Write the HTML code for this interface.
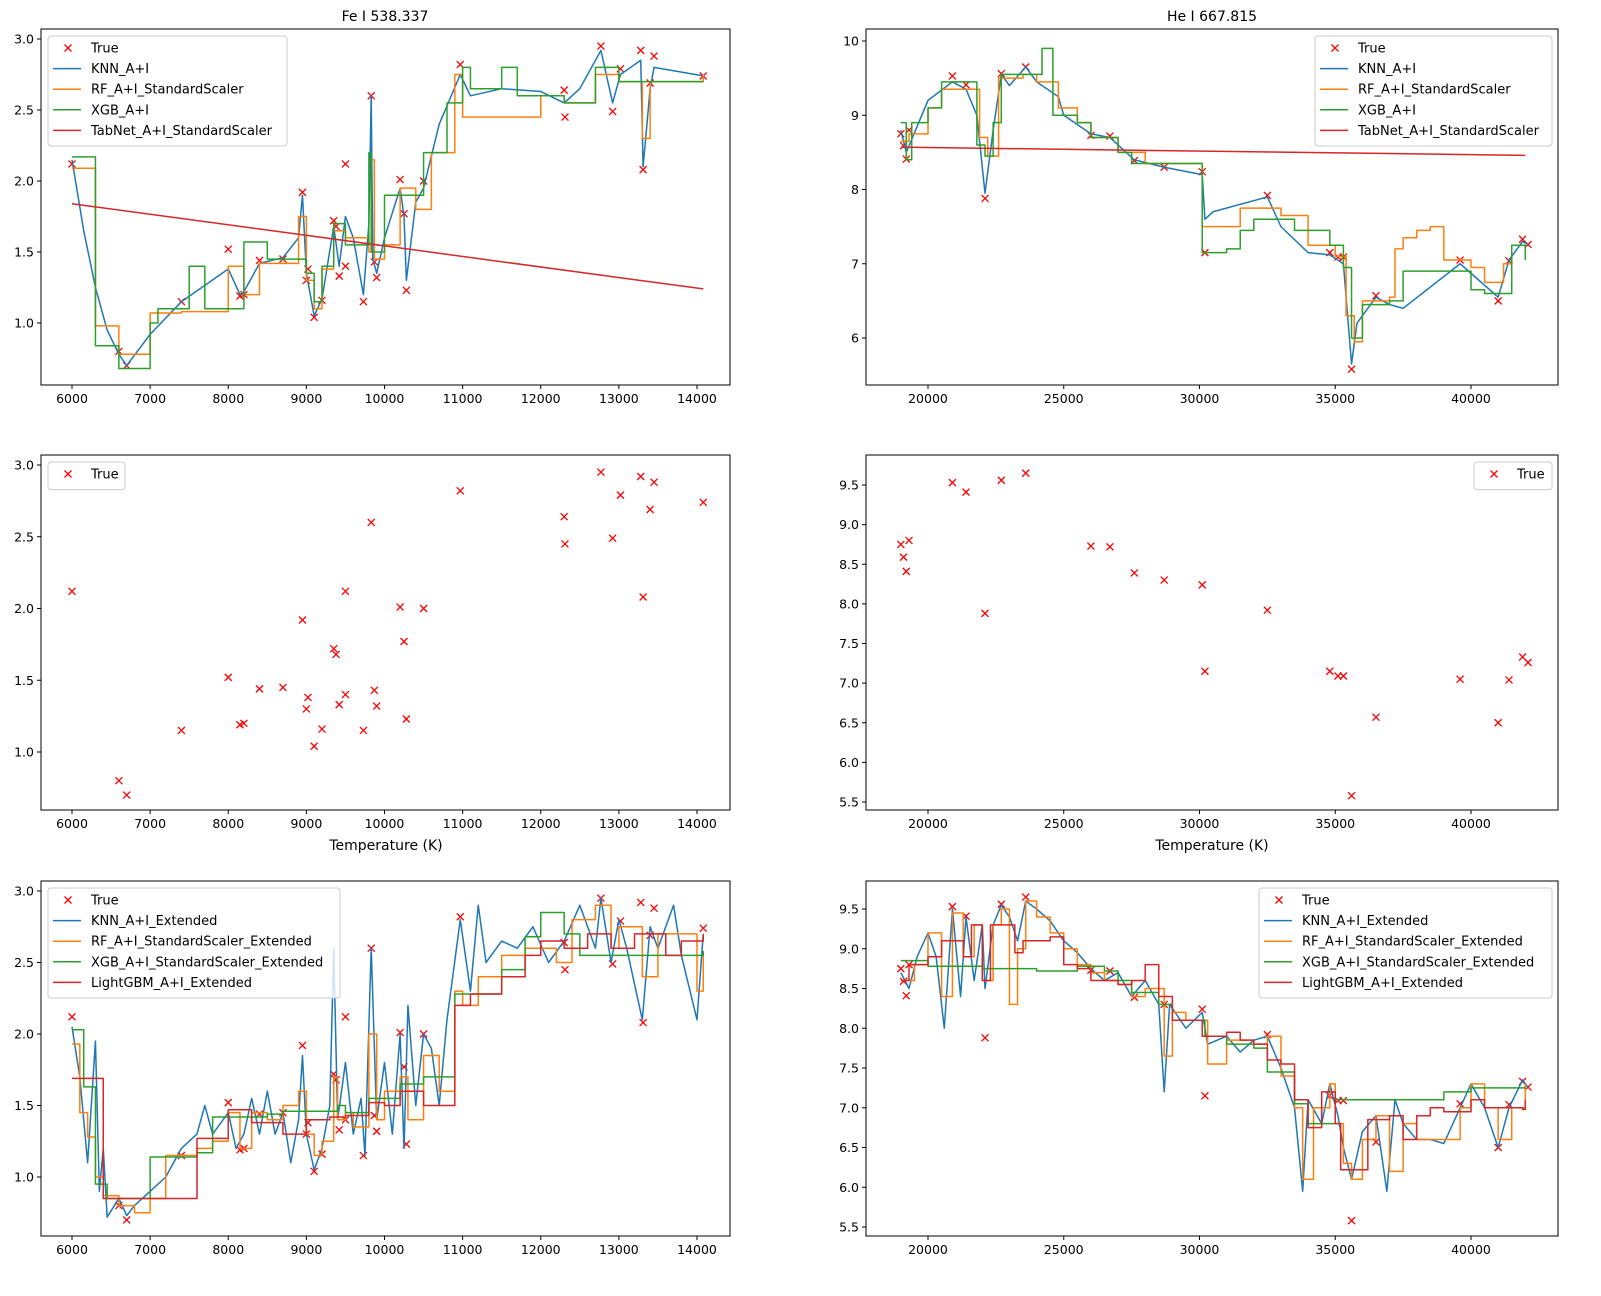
<!DOCTYPE html>
<html><head><meta charset="utf-8"><style>
body{margin:0;background:#fff;}
svg{display:block;font-family:"DejaVu Sans","Liberation Sans",sans-serif;}
</style></head><body>
<svg id="chart" width="1601" height="1296" viewBox="0 0 1601 1296" xmlns="http://www.w3.org/2000/svg"></svg>
<script>
// ---------- True data ----------
const feTrueT=[6000,6600,6700,7400,8000,8150,8200,8400,8700,8950,9000,9020,9100,9200,9350,9380,9420,9500,9500,9730,9830,9870,9900,10200,10250,10280,10500,10970,12300,12310,12770,12920,13020,13280,13310,13400,13450,14080];
const feTrueV=[2.12,0.80,0.70,1.15,1.52,1.19,1.20,1.44,1.45,1.92,1.30,1.38,1.04,1.16,1.72,1.68,1.33,1.40,2.12,1.15,2.60,1.43,1.32,2.01,1.77,1.23,2.00,2.82,2.64,2.45,2.95,2.49,2.79,2.92,2.08,2.69,2.88,2.74];
const heTrueT=[19000,19100,19200,19300,20900,21400,22100,22700,23600,26000,26700,27600,28700,30100,30200,32500,34800,35100,35300,35600,36500,39600,41000,41400,41900,42100];
const heTrueV=[8.75,8.59,8.41,8.80,9.53,9.41,7.88,9.56,9.65,8.73,8.72,8.39,8.30,8.24,7.15,7.92,7.15,7.09,7.09,5.58,6.57,7.05,6.50,7.04,7.33,7.26];

// ---------- Row 1 Fe ----------
const fe1KnnT=[6000,6150,6300,6450,6600,6700,7000,7400,8000,8150,8200,8400,8700,8900,8950,9000,9100,9200,9350,9420,9500,9600,9730,9800,9830,9850,9900,10000,10200,10250,10280,10400,10500,10700,10970,11100,11500,12000,12300,12500,12770,12920,13020,13280,13310,13400,13450,14080];
const fe1KnnV=[2.15,1.65,1.25,0.95,0.78,0.70,0.92,1.15,1.38,1.20,1.22,1.42,1.46,1.60,1.90,1.35,1.05,1.17,1.68,1.40,1.75,1.60,1.20,1.70,2.60,1.45,1.35,1.60,1.95,1.75,1.30,1.85,1.95,2.40,2.75,2.60,2.65,2.63,2.55,2.65,2.92,2.55,2.75,2.85,2.10,2.65,2.80,2.74];
const fe1RfT=[6000,6300,6600,7000,7400,8000,8200,8400,8900,9000,9100,9200,9350,9500,9800,9830,9870,10000,10200,10400,10600,10900,11000,12000,12300,12700,13000,13300,13400,14080];
const fe1RfV=[2.09,0.98,0.78,1.07,1.08,1.40,1.20,1.42,1.75,1.30,1.10,1.38,1.65,1.60,1.50,2.15,1.45,1.55,1.95,1.80,2.20,2.75,2.45,2.60,2.55,2.75,2.70,2.30,2.70,2.75];
const fe1XgbT=[6000,6300,6600,7000,7100,7500,7700,8200,8500,9000,9100,9200,9350,9500,9800,9830,10000,10500,10800,11000,11100,11500,11700,12300,12700,13000,13300,14080];
const fe1XgbV=[2.17,0.84,0.68,1.00,1.10,1.40,1.10,1.57,1.45,1.35,1.15,1.40,1.70,1.55,2.20,1.50,1.90,2.20,2.55,2.80,2.65,2.80,2.60,2.55,2.80,2.70,2.70,2.70];
const fe1TabT=[6000,14080];
const fe1TabV=[1.84,1.24];

// ---------- Row 1 He ----------
const he1KnnT=[19000,19200,20000,20900,21400,21800,22100,22400,22700,23000,23600,24000,24800,25000,26000,26700,27600,28700,30100,30200,30500,32500,33000,34000,34800,35300,35600,35800,36500,37000,37500,39600,41000,41400,41900,42100];
const he1KnnV=[8.8,8.5,9.2,9.45,9.35,9.0,7.95,8.8,9.55,9.4,9.65,9.45,9.25,9.0,8.75,8.7,8.4,8.3,8.2,7.6,7.7,7.9,7.5,7.15,7.12,7.0,5.65,6.2,6.55,6.45,6.4,7.0,6.55,7.05,7.3,7.26];
const he1RfT=[19000,19300,20000,20500,21500,21900,22200,22600,23500,24000,24800,25500,26000,27000,28000,30100,31000,31500,33000,34000,35000,35400,35700,36000,37000,37200,37500,38000,38500,39000,40000,40500,41200,41500,42000];
const he1RfV=[8.65,8.75,9.1,9.35,9.35,8.7,8.45,9.5,9.55,9.45,9.1,8.9,8.7,8.5,8.35,7.5,7.5,7.75,7.65,7.25,7.1,6.3,5.95,6.5,6.55,7.2,7.35,7.45,7.5,7.05,6.95,6.75,7.0,7.25,7.2];
const he1XgbT=[19000,19200,19400,20000,20500,21500,21800,22100,22400,22700,23500,24200,24600,25500,26000,27000,27500,28500,30100,31000,31500,32000,33500,34800,35300,35600,36000,37000,37500,39500,40000,40500,41000,41500,41900,42000];
const he1XgbV=[8.9,8.4,8.9,9.1,9.45,9.45,8.6,8.45,8.9,9.55,9.55,9.9,9.0,8.9,8.7,8.5,8.35,8.35,7.15,7.2,7.45,7.6,7.45,7.25,6.95,6.0,6.45,6.5,6.9,6.9,6.65,6.6,6.6,7.25,7.25,7.05];
const he1TabT=[19000,42000];
const he1TabV=[8.57,8.46];

// ---------- Row 3 Fe ----------
const fe3KnnT=[6000,6100,6200,6300,6350,6400,6450,6600,6700,6800,7000,7200,7400,7600,7700,7800,8000,8100,8200,8300,8400,8500,8600,8700,8800,8900,8950,9000,9100,9200,9300,9350,9400,9500,9600,9700,9750,9830,9900,10000,10100,10200,10250,10300,10400,10500,10600,10700,10800,10970,11100,11200,11300,11500,11700,11900,12100,12300,12500,12700,12770,12900,13000,13100,13300,13400,13500,13700,13800,14000,14080];
const fe3KnnV=[2.05,1.7,1.1,1.95,0.9,1.2,0.72,0.85,0.73,0.8,0.9,1.0,1.2,1.3,1.5,1.3,1.45,1.2,1.3,1.55,1.3,1.6,1.3,1.45,1.1,1.4,1.85,1.3,1.05,1.2,1.5,2.6,1.4,1.8,1.3,1.55,1.15,2.6,1.4,1.8,1.3,2.0,1.2,2.2,1.5,2.0,1.9,1.5,2.1,2.8,2.3,2.9,2.5,2.65,2.6,2.75,2.5,2.65,2.9,2.6,2.95,2.5,2.8,2.6,2.1,2.75,2.6,2.9,2.55,2.1,2.7];
const fe3RfT=[6000,6100,6200,6300,6400,6600,6800,7000,7200,7600,7800,8000,8150,8300,8500,8700,8900,9000,9100,9200,9350,9400,9500,9600,9800,9900,10000,10200,10300,10500,10700,10900,11000,11200,11500,11800,12200,12400,12700,12900,13000,13300,13500,13800,14000,14080];
const fe3RfV=[1.93,1.45,1.28,1.0,0.87,0.8,0.75,0.85,1.15,1.2,1.25,1.45,1.2,1.45,1.4,1.5,1.6,1.3,1.15,1.25,1.7,1.4,1.45,1.35,2.0,1.4,1.6,1.7,1.4,1.85,1.6,2.3,2.2,2.4,2.55,2.6,2.5,2.8,2.9,2.6,2.75,2.4,2.7,2.7,2.3,2.55];
const fe3XgbT=[6000,6150,6300,6450,7000,7600,7800,8500,8700,9400,9500,9800,10200,10500,10900,11500,11800,12000,12300,12500,14080];
const fe3XgbV=[2.03,1.63,0.95,0.85,1.14,1.17,1.42,1.44,1.46,1.5,1.45,1.55,1.65,1.7,2.28,2.45,2.68,2.85,2.7,2.55,2.58];
const fe3LgbT=[6000,6400,7600,8000,8300,8700,9000,9300,9500,9800,10000,10200,10500,10900,11100,11500,11800,12000,12300,12600,12900,13200,13600,13800,14080];
const fe3LgbV=[1.69,0.85,1.27,1.47,1.38,1.3,1.4,1.42,1.43,1.52,1.5,1.6,1.5,2.2,2.28,2.4,2.55,2.65,2.6,2.7,2.6,2.7,2.55,2.65,2.7];

// ---------- Row 3 He ----------
const he3KnnT=[19000,19300,19600,20000,20300,20600,20900,21200,21400,21700,22000,22100,22400,22700,23000,23300,23600,24000,24500,25000,25500,26000,26500,27000,27500,28000,28500,28700,28900,29500,30100,30300,31000,31500,32000,32500,33000,33500,33800,34000,34500,34800,35100,35300,35600,36000,36500,36900,37200,37500,38000,38500,39000,39600,40000,40500,41000,41400,41900,42100];
const he3KnnV=[8.7,8.5,8.9,9.2,8.9,8.0,9.5,8.4,9.4,8.6,9.3,8.5,9.3,9.55,9.4,9.1,9.6,9.5,9.35,9.1,8.95,8.75,8.6,8.7,8.4,8.6,8.3,7.2,8.3,8.0,8.2,7.8,7.9,7.7,7.85,7.9,7.5,7.0,5.95,7.1,6.8,7.3,6.9,6.5,6.1,6.7,6.9,5.95,7.1,6.8,6.6,6.6,6.55,7.0,7.3,7.0,6.5,7.0,7.35,7.25];
const he3RfT=[19000,19500,20000,20500,20900,21300,21700,22000,22400,22700,23000,23300,23600,24000,24500,25000,25500,26000,26500,27000,27500,28000,28700,29000,29500,30100,30300,31000,32000,32500,33000,33500,33800,34200,34800,35000,35300,35600,36000,36500,37000,37500,38000,39000,39600,40000,40500,41000,41500,42000];
const he3RfV=[8.6,8.8,9.2,8.4,9.45,8.9,9.3,8.6,9.3,9.5,8.3,9.0,9.6,9.4,9.2,9.0,8.8,8.7,8.6,8.55,8.4,8.5,7.65,8.2,8.1,8.1,7.55,7.85,7.8,7.9,7.4,7.0,6.1,7.0,7.3,6.8,6.3,6.1,6.6,6.9,6.2,6.8,6.6,6.6,7.0,7.3,7.0,6.6,7.0,7.3];
const he3XgbT=[19000,20000,22000,24000,25500,26500,27000,27500,28500,29000,30200,31000,32000,32500,33500,34000,35000,36000,37000,39000,40000,42000];
const he3XgbV=[8.85,8.78,8.75,8.72,8.78,8.72,8.6,8.45,8.3,8.1,7.9,7.8,7.75,7.45,7.05,6.8,7.1,7.1,7.1,7.2,7.25,7.25];
const he3LgbT=[19000,19300,20000,20500,21300,21600,22000,22300,23200,23500,24500,25000,25500,26000,27000,27500,28000,28500,29000,29500,30100,31000,31500,32000,32500,33000,33500,34000,34500,35000,35200,35900,36200,37000,37500,38000,38500,39000,40000,40500,41900,42000];
const he3LgbV=[8.6,8.8,8.9,9.1,8.9,9.3,8.6,9.3,8.95,9.1,9.15,8.8,8.75,8.6,8.55,8.6,8.8,8.4,8.1,8.1,7.9,7.95,7.85,7.8,7.6,7.55,7.1,6.75,7.2,6.8,6.22,6.22,6.85,6.9,6.6,6.9,7.0,6.95,7.1,7.0,6.98,7.1];

// ---------- Ticks ----------
const feXTicks=[6000,7000,8000,9000,10000,11000,12000,13000,14000];
const heXTicks=[20000,25000,30000,35000,40000];
const feYTicks=[1.0,1.5,2.0,2.5,3.0];
const he1YTicks=[6,7,8,9,10];
const he2YTicks=[5.5,6.0,6.5,7.0,7.5,8.0,8.5,9.0,9.5];

const C={blue:'#1f77b4',orange:'#ff7f0e',green:'#2ca02c',red:'#d62728'};
const svg=document.getElementById('chart');
const NS='http://www.w3.org/2000/svg';
function mk(tag,attrs,parent){const e=document.createElementNS(NS,tag);for(const k in attrs)e.setAttribute(k,attrs[k]);(parent||svg).appendChild(e);return e;}

function makeAxes(name,x0,x1,y0,y1,xmin,xmax,ymin,ymax,pxmin,pxmax,pymin,pymax){
  // pxmin,pxmax: pixel of xmin,xmax ; pymin,pymax pixel of ymin,ymax
  const g=mk('g',{});
  
  
  const sx=v=>pxmin+(v-xmin)*(pxmax-pxmin)/(xmax-xmin);
  const sy=v=>pymin+(v-ymin)*(pymax-pymin)/(ymax-ymin);
  const cp='cp-'+name;
  const cl=mk('clipPath',{id:cp},g);mk('rect',{x:x0,y:y0,width:x1-x0,height:y1-y0},cl);
  const plot=mk('g',{'clip-path':'url(#'+cp+')'},g);
  return {g,plot,sx,sy,x0,x1,y0,y1};
}
function frame(ax){
  const r=mk('rect',{x:ax.x0,y:ax.y0,width:ax.x1-ax.x0,height:ax.y1-ax.y0,fill:'none',stroke:'#000','stroke-width':1},ax.g);
  
  
}
function xTicks(ax,ticks){
  ticks.forEach(t=>{const x=ax.sx(t);
    mk('line',{x1:x,x2:x,y1:ax.y1,y2:ax.y1+4,stroke:'#000'},ax.g);
    const tx=mk('text',{x:x,y:ax.y1+18,'font-size':12.5,'text-anchor':'middle'},ax.g);tx.textContent=String(t);
    
    
  });
}
function yTicks(ax,ticks,dec){
  ticks.forEach(t=>{const y=ax.sy(t);
    mk('line',{x1:ax.x0-4,x2:ax.x0,y1:y,y2:y,stroke:'#000'},ax.g);
    const tx=mk('text',{x:ax.x0-7,y:y+4.5,'font-size':12.5,'text-anchor':'end'},ax.g);tx.textContent=t.toFixed(dec);
    
    
  });
}
function line(ax,T,V,color,name,step){
  let d='';
  T.forEach((t,i)=>{const x=ax.sx(t),y=ax.sy(V[i]);
    if(i===0)d+='M'+x+','+y;
    else if(step)d+='H'+x+'V'+y;
    else d+='L'+x+','+y;});
  const p=mk('path',{d:d,fill:'none',stroke:color,'stroke-width':1.5,'stroke-linejoin':'round'},ax.plot);
  
  
}
function crosses(ax,T,V){
  const g=mk('g',{},ax.plot);
  
  
  T.forEach((t,i)=>{const x=ax.sx(t),y=ax.sy(V[i]);
    mk('path',{d:`M${x-3.5},${y-3.5}L${x+3.5},${y+3.5}M${x-3.5},${y+3.5}L${x+3.5},${y-3.5}`,stroke:'#ff0000','stroke-width':1.3},g);});
}
function legend(ax,x,y,w,entries){
  const g=mk('g',{},ax.g);
  
  
  const h=entries.length*20.6+7;
  mk('rect',{x:x,y:y,width:w,height:h,rx:3,fill:'#fff','fill-opacity':0.8,stroke:'#ccc'},g);
  entries.forEach((e,i)=>{const cy=y+12+i*20.6;
    const eg=mk('g',{},g);
    
    
    if(e[1]==='x'){const cx=x+20;mk('path',{d:`M${cx-3.5},${cy-3.5}L${cx+3.5},${cy+3.5}M${cx-3.5},${cy+3.5}L${cx+3.5},${cy-3.5}`,stroke:'#ff0000','stroke-width':1.3},eg);}
    else mk('line',{x1:x+5,x2:x+33,y1:cy,y2:cy,stroke:e[1],'stroke-width':1.5},eg);
    const t=mk('text',{x:x+43,y:cy+4.5,'font-size':13},eg);t.textContent=e[0];});
}
function text(x,y,s,name,anchor){const t=mk('text',{x:x,y:y,'font-size':14,'text-anchor':anchor||'middle'});t.textContent=s;
  
  }

const LX0=41,LX1=730,RX0=866,RX1=1558;
const feX=[6000,14000,72,697];
const heX=[20000,40000,928,1471];

// Row1 left
let a=makeAxes('fe-models-axes',LX0,LX1,29,385,feX[0],feX[1],1.0,3.0,feX[2],feX[3],323,39);
crosses(a,feTrueT,feTrueV);
line(a,fe1KnnT,fe1KnnV,C.blue,'knn-line');
line(a,fe1RfT,fe1RfV,C.orange,'rf-line',true);
line(a,fe1XgbT,fe1XgbV,C.green,'xgb-line',true);
line(a,fe1TabT,fe1TabV,C.red,'tabnet-line');
frame(a);xTicks(a,feXTicks);yTicks(a,feYTicks,1);
legend(a,48,36,239,[['True','x'],['KNN_A+I',C.blue],['RF_A+I_StandardScaler',C.orange],['XGB_A+I',C.green],['TabNet_A+I_StandardScaler',C.red]]);
text(385,21,'Fe I 538.337','fe-title');

// Row1 right
a=makeAxes('he-models-axes',RX0,RX1,29,385,heX[0],heX[1],6,10,heX[2],heX[3],338,41);
crosses(a,heTrueT,heTrueV);
line(a,he1KnnT,he1KnnV,C.blue,'knn-line');
line(a,he1RfT,he1RfV,C.orange,'rf-line',true);
line(a,he1XgbT,he1XgbV,C.green,'xgb-line',true);
line(a,he1TabT,he1TabV,C.red,'tabnet-line');
frame(a);xTicks(a,heXTicks);yTicks(a,he1YTicks,0);
legend(a,1315,36,237,[['True','x'],['KNN_A+I',C.blue],['RF_A+I_StandardScaler',C.orange],['XGB_A+I',C.green],['TabNet_A+I_StandardScaler',C.red]]);
text(1212,21,'He I 667.815','he-title');

// Row2 left
a=makeAxes('fe-true-axes',LX0,LX1,455,810,feX[0],feX[1],1.0,3.0,feX[2],feX[3],752,465);
crosses(a,feTrueT,feTrueV);
frame(a);xTicks(a,feXTicks);yTicks(a,feYTicks,1);
legend(a,48,462,77,[['True','x']]);
text(386,850,'Temperature (K)','fe-x-axis-title');

// Row2 right
a=makeAxes('he-true-axes',RX0,RX1,455,810,heX[0],heX[1],5.5,9.5,heX[2],heX[3],802,485);
crosses(a,heTrueT,heTrueV);
frame(a);xTicks(a,heXTicks);yTicks(a,he2YTicks,1);
legend(a,1474,462,78,[['True','x']]);
text(1212,850,'Temperature (K)','he-x-axis-title');

// Row3 left
a=makeAxes('fe-extended-axes',LX0,LX1,881,1236,feX[0],feX[1],1.0,3.0,feX[2],feX[3],1177,891);
crosses(a,feTrueT,feTrueV);
line(a,fe3KnnT,fe3KnnV,C.blue,'knn-extended-line');
line(a,fe3RfT,fe3RfV,C.orange,'rf-extended-line',true);
line(a,fe3XgbT,fe3XgbV,C.green,'xgb-extended-line',true);
line(a,fe3LgbT,fe3LgbV,C.red,'lightgbm-extended-line',true);
frame(a);xTicks(a,feXTicks);yTicks(a,feYTicks,1);
legend(a,48,888,292,[['True','x'],['KNN_A+I_Extended',C.blue],['RF_A+I_StandardScaler_Extended',C.orange],['XGB_A+I_StandardScaler_Extended',C.green],['LightGBM_A+I_Extended',C.red]]);

// Row3 right
a=makeAxes('he-extended-axes',RX0,RX1,881,1236,heX[0],heX[1],5.5,9.5,heX[2],heX[3],1227,909);
crosses(a,heTrueT,heTrueV);
line(a,he3KnnT,he3KnnV,C.blue,'knn-extended-line');
line(a,he3RfT,he3RfV,C.orange,'rf-extended-line',true);
line(a,he3XgbT,he3XgbV,C.green,'xgb-extended-line',true);
line(a,he3LgbT,he3LgbV,C.red,'lightgbm-extended-line',true);
frame(a);xTicks(a,heXTicks);yTicks(a,he2YTicks,1);
legend(a,1259,888,293,[['True','x'],['KNN_A+I_Extended',C.blue],['RF_A+I_StandardScaler_Extended',C.orange],['XGB_A+I_StandardScaler_Extended',C.green],['LightGBM_A+I_Extended',C.red]]);
</script>
</body></html>
